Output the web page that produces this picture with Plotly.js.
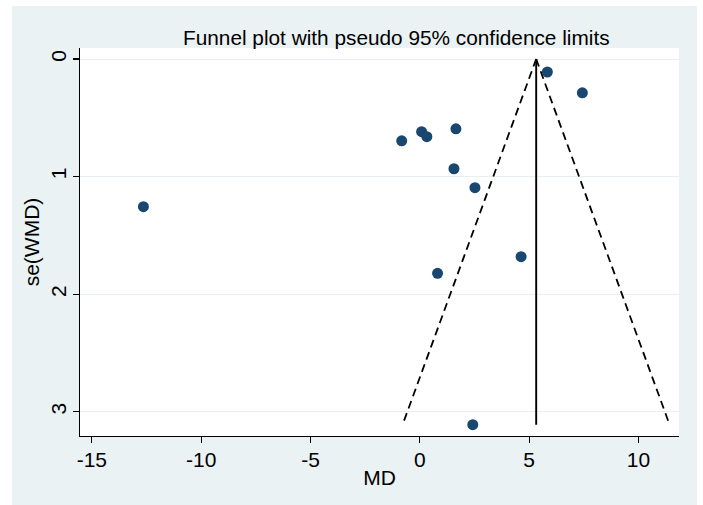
<!DOCTYPE html>
<html>
<head>
<meta charset="utf-8">
<script src="https://cdn.plot.ly/plotly-3.0.1.min.js"></script>
<style>
  html, body { margin: 0; padding: 0; background: #ffffff; width: 703px; height: 505px; overflow: hidden; }
  #chart { position: absolute; left: 12px; top: 6px; width: 685px; height: 499px; }
</style>
</head>
<body>
<div id="chart"></div>
<script>
// Study estimates
const md = [5.83, 7.43, 1.65, 0.08, 0.32, -0.83, 1.56, 2.52, -12.64, 4.63, 0.81, 2.42];
const se = [0.11, 0.287, 0.593, 0.618, 0.66, 0.695, 0.933, 1.094, 1.256, 1.681, 1.822, 3.11];

// Pooled estimate line and pseudo 95% limits (endpoints)
const pooledX = [5.32, 5.32];
const funnelSE = [0, 3.11];
const lowerLimit = [5.32, -0.79];
const upperLimit = [5.32, 11.42];

// Axis ticks
const xTicks = [-15, -10, -5, 0, 5, 10];
const yTicks = [0, 1, 2, 3];

const FONT = '"Liberation Sans", Arial, sans-serif';

const traces = [
  { x: lowerLimit, y: funnelSE, type: 'scatter', mode: 'lines',
    line: { color: '#000000', width: 1.8, dash: '8px,5px' }, hoverinfo: 'skip', showlegend: false },
  { x: upperLimit, y: funnelSE, type: 'scatter', mode: 'lines',
    line: { color: '#000000', width: 1.8, dash: '8px,5px' }, hoverinfo: 'skip', showlegend: false },
  { x: pooledX, y: funnelSE, type: 'scatter', mode: 'lines',
    line: { color: '#000000', width: 1.9 }, hoverinfo: 'skip', showlegend: false },
  { x: md, y: se, type: 'scatter', mode: 'markers',
    marker: { color: '#1a476f', size: 11, line: { width: 0 } }, showlegend: false }
];

const layout = {
  width: 685, height: 499,
  margin: { l: 68, r: 18, t: 42, b: 69, pad: 0 },
  paper_bgcolor: '#eaf2f3',
  plot_bgcolor: '#ffffff',
  font: { family: FONT, size: 21, color: '#000000' },
  title: {
    text: 'Funnel plot with pseudo 95% confidence limits',
    font: { family: FONT, size: 20.8, color: '#000000' },
    x: 0.561, xref: 'container', xanchor: 'center',
    y: 0.936, yref: 'container', yanchor: 'middle'
  },
  xaxis: {
    range: [-15.54, 11.85],
    tickvals: xTicks,
    ticktext: xTicks.map(String),
    ticks: 'outside', ticklen: 6, tickwidth: 1.2, tickcolor: '#000000',
    showline: true, linecolor: '#000000', linewidth: 1.3,
    showgrid: false, zeroline: false,
    tickfont: { family: FONT, size: 21 },
    ticklabelstandoff: -2,
    title: { text: 'MD', font: { family: FONT, size: 21 }, standoff: 0 }
  },
  yaxis: {
    range: [3.206, -0.094],
    tickvals: yTicks,
    ticktext: yTicks.map(String),
    tickangle: -90,
    ticks: 'outside', ticklen: 6, tickwidth: 1.2, tickcolor: '#000000',
    showline: true, linecolor: '#000000', linewidth: 1.3,
    showgrid: true, gridcolor: '#e6eff1', gridwidth: 1,
    zeroline: false,
    tickfont: { family: FONT, size: 21 },
    ticklabelstandoff: -2,
    title: { text: 'se(WMD)', font: { family: FONT, size: 21 }, standoff: 2 }
  },
  showlegend: false
};

Plotly.newPlot('chart', traces, layout, { displayModeBar: false, staticPlot: true });
</script>
</body>
</html>
